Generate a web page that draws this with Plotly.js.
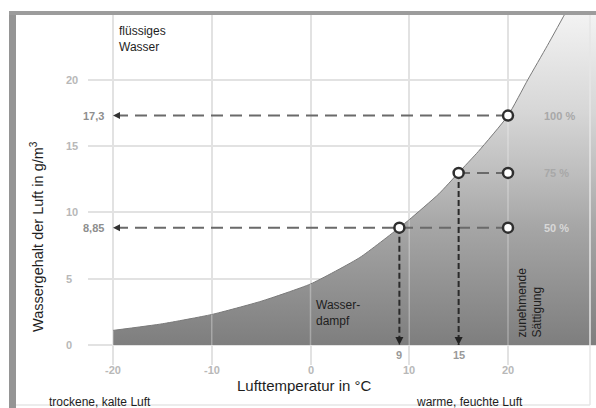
<!DOCTYPE html>
<html><head><meta charset="utf-8">
<script src="https://cdn.plot.ly/plotly-3.0.1.min.js"></script>
<style>html,body{margin:0;padding:0;background:#fff}#chart{width:596px;height:408px}</style>
</head><body><div id="chart"></div>
<script>
// ---- data ----
// saturation water content (g/m³) vs. air temperature (°C)
const temps        = [-20, -15, -10, -5, 0, 5, 9, 10, 13, 15, 17, 20, 22, 24, 26, 28, 30];
const waterContent = [1.1, 1.6, 2.3, 3.3, 4.6, 6.6, 8.85, 9.45, 11.4, 13.0, 14.6, 17.3, 20.0, 22.6, 25.3, 28.2, 31.2];
const xTicks = [-20, -10, 0, 10, 20];
const yTicks = [0, 5, 10, 15, 20];
// saturation levels of air at 20 °C
const airTemp      = 20;
const satLabels    = ['100 %', '75 %', '50 %'];
const satContent   = [17.3, 12.98, 8.85];
const dewPoints    = [20, 15, 9];
const arrowToAxis  = [true, false, true];
const dropToAxis   = [false, true, true];
const contentLabels = ['17,3', '', '8,85'];
const dewLabels     = ['', '15', '9'];

// ---- layout geometry ----
const W = 596, H = 408, L = 88, R = 0, T = 14, B = 43;
const pw = W - L - R, ph = H - T - B;
const px = x => (x - L) / pw;
const py = y => (H - B - y) / ph;
const xMin = xTicks[0];

// ---- traces ----
const traces = [];
traces.push({
  x: temps, y: waterContent, type: 'scatter', mode: 'lines', fill: 'tozeroy',
  line: {color: '#7a7a7a', width: 1, shape: 'spline', smoothing: 0.5},
  fillgradient: {type: 'vertical', start: 0, stop: 25,
    colorscale: [[0, '#7e7e7e'], [0.35, '#a5a5a5'], [0.52, '#bebebe'], [0.7, '#d6d6d6'], [1, '#f3f3f3']]},
  hoverinfo: 'skip'
});
// light grid visible through the fill
const gx = [], gy = [];
xTicks.forEach(t => {
  const i = temps.indexOf(t);
  gx.push(t, t, null); gy.push(0, waterContent[i], null);
});
traces.push({x: gx, y: gy, type: 'scatter', mode: 'lines',
  line: {color: 'rgba(255,255,255,0.3)', width: 1.5}, hoverinfo: 'skip'});

// horizontal dashed lines
const hx = [], hy = [];
satContent.forEach((c, i) => {
  hx.push(airTemp, arrowToAxis[i] ? xMin : dewPoints[i], null);
  hy.push(c, c, null);
});
traces.push({x: hx, y: hy, type: 'scatter', mode: 'lines',
  line: {color: '#6a6a6a', width: 2, dash: '12px,7px'}, hoverinfo: 'skip'});
// vertical dashed lines
const vx = [], vy = [];
satContent.forEach((c, i) => {
  if (dropToAxis[i]) { vx.push(dewPoints[i], dewPoints[i], null); vy.push(c, 0, null); }
});
traces.push({x: vx, y: vy, type: 'scatter', mode: 'lines',
  line: {color: '#2a2a2a', width: 2, dash: '6px,3px'}, hoverinfo: 'skip'});
// arrowheads
traces.push({x: satContent.filter((c, i) => arrowToAxis[i]).map(() => xMin),
  y: satContent.filter((c, i) => arrowToAxis[i]), type: 'scatter', mode: 'markers',
  marker: {symbol: 'arrow-left', size: 7, color: '#333'}, hoverinfo: 'skip'});
traces.push({x: dewPoints.filter((d, i) => dropToAxis[i]),
  y: dewPoints.filter((d, i) => dropToAxis[i]).map(() => 0), type: 'scatter', mode: 'markers',
  marker: {symbol: 'arrow-down', size: 8, color: '#222'}, hoverinfo: 'skip'});
// circles
const cx = [], cy = [];
satContent.forEach((c, i) => {
  cx.push(airTemp); cy.push(c);
  if (dropToAxis[i]) { cx.push(dewPoints[i]); cy.push(c); }
});
traces.push({x: cx, y: cy, type: 'scatter', mode: 'markers',
  marker: {symbol: 'circle', size: 10, color: '#fff', line: {color: '#2f2f2f', width: 2.5}}, hoverinfo: 'skip'});

// ---- annotations ----
const tickFont = (c) => ({family: 'Liberation Sans, Arial, sans-serif', size: 11, weight: 'bold', color: c});
const txtFont = (s) => ({family: 'Liberation Sans, Arial, sans-serif', size: s, color: '#1e1e1e'});
const ann = [];
yTicks.forEach(v => ann.push({xref: 'paper', x: px(64), xanchor: 'left', yref: 'y', y: v, yanchor: 'middle',
  text: String(v), showarrow: false, font: tickFont('#b8b8b8')}));
satContent.forEach((c, i) => { if (contentLabels[i]) ann.push({xref: 'x', x: xMin, xanchor: 'right', xshift: -7,
  yref: 'y', y: c, yanchor: 'middle', text: contentLabels[i], showarrow: false, font: tickFont('#8e8e8e')}); });
xTicks.forEach(v => ann.push({xref: 'x', x: v, xanchor: 'center', yref: 'y', y: 0, yshift: -25, yanchor: 'middle',
  text: String(v), showarrow: false, font: tickFont('#b8b8b8')}));
dewPoints.forEach((d, i) => { if (dewLabels[i]) ann.push({xref: 'x', x: d, xanchor: 'center', yref: 'y', y: 0, yshift: -10, yanchor: 'middle',
  text: dewLabels[i], showarrow: false, font: tickFont('#999')}); });
const pctColors = ['#a8a8a8', '#a8a8a8', '#d8d8d8'];
satContent.forEach((c, i) => ann.push({xref: 'x', x: airTemp, xshift: 34, xanchor: 'left', yref: 'y', y: c, yanchor: 'middle',
  text: satLabels[i], showarrow: false, font: tickFont(pctColors[i])}));

const txt = (x, y, text, size, extra) => Object.assign({xref: 'paper', yref: 'paper', x: px(x), y: py(y),
  xanchor: 'center', yanchor: 'middle', text: text, showarrow: false, font: txtFont(size)}, extra || {});
ann.push(txt(304, 385, 'Lufttemperatur in °C', 15));
ann.push(txt(37, 237, 'Wassergehalt der Luft in g/m<sup>3</sup>', 14.5, {textangle: -90}));
ann.push(txt(117, 38.5, 'flüssiges<br>Wasser', 12, {xanchor: 'left', align: 'left'}));
ann.push(txt(314, 313, 'Wasser-<br>dampf', 12, {xanchor: 'left', align: 'left'}));
ann.push(txt(529.5, 303, 'zunehmende<br>Sättigung', 12, {textangle: -90, align: 'left'}));
ann.push(txt(47, 402, 'trockene, kalte Luft', 12, {xanchor: 'left'}));
ann.push(txt(414, 402, 'warme, feuchte Luft', 12, {xanchor: 'left'}));

// ---- frame ----
const shapes = [
  {type: 'rect', xref: 'paper', yref: 'paper', x0: px(9), x1: px(16), y0: py(408), y1: py(11), fillcolor: '#959595', line: {width: 0}},
  {type: 'rect', xref: 'paper', yref: 'paper', x0: px(9), x1: px(596), y0: py(15), y1: py(11), fillcolor: '#9c9c9c', line: {width: 0}},
  {type: 'line', xref: 'paper', yref: 'paper', x0: px(16), x1: px(590), y0: py(405), y1: py(405), line: {color: '#e6e6e6', width: 1.5}},
  {type: 'line', xref: 'paper', yref: 'paper', x0: px(590), x1: px(590), y0: py(15), y1: py(405), line: {color: '#e6e6e6', width: 1.5}}
];

const layout = {
  width: W, height: H, margin: {l: L, r: R, t: T, b: B},
  paper_bgcolor: '#fff', plot_bgcolor: '#fff', showlegend: false,
  xaxis: {range: [-20 - 25 / 9.875, -20 + 483 / 9.875], tickvals: xTicks, showticklabels: false,
    showgrid: true, gridcolor: '#e2e2e2', gridwidth: 2, zeroline: false, showline: false, ticks: ''},
  yaxis: {range: [-20 / 13.26, 331 / 13.26], tickvals: yTicks, showticklabels: false,
    showgrid: true, gridcolor: '#e2e2e2', gridwidth: 2, zeroline: false, showline: false, ticks: ''},
  annotations: ann, shapes: shapes
};
Plotly.newPlot('chart', traces, layout, {displayModeBar: false, staticPlot: true});
</script></body></html>
